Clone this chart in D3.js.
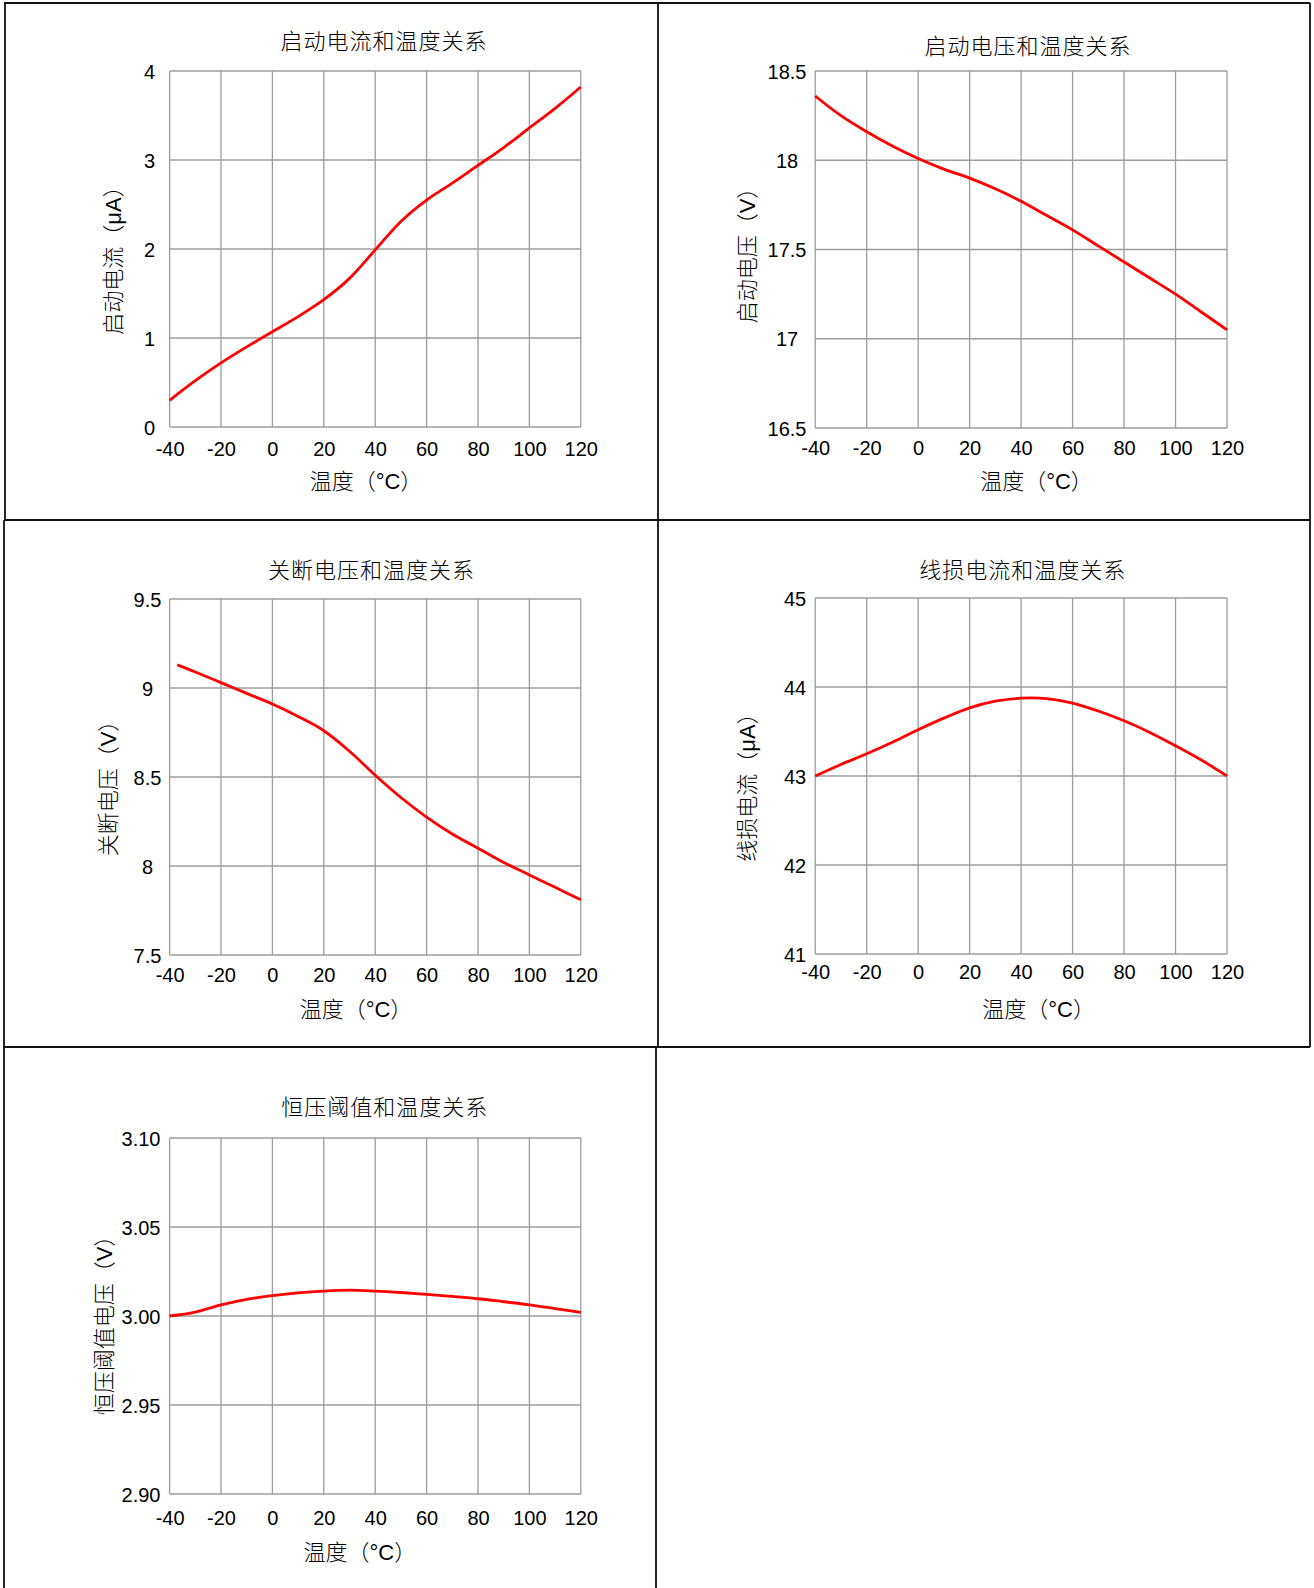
<!DOCTYPE html>
<html>
<head>
<meta charset="utf-8">
<script src="https://cdn.jsdelivr.net/npm/d3@7"></script>
<style>
body{margin:0;background:#fff}
svg text{font-family:"Liberation Sans",Arial,"Noto Sans CJK SC",sans-serif;fill:#000}
svg text.cjk{font-weight:300}
</style>
</head>
<body>
<svg id="canvas" width="1314" height="1588"></svg>
<script>
//1) Data

//temperature axis
const xTicks = [-40, -20, 0, 20, 40, 60, 80, 100, 120]
const temps = [-40, -30, -20, -10, 0, 10, 20, 30, 40, 50, 60, 70, 80, 90, 100, 110, 120]
const shutdownTemps = [-37, -30, -20, -10, 0, 10, 20, 30, 40, 50, 60, 70, 80, 90, 100, 110, 120]

//series values
const startCurrent = [0.30, 0.52, 0.72, 0.90, 1.07, 1.24, 1.43, 1.67, 1.99, 2.31, 2.55, 2.74, 2.94, 3.14, 3.36, 3.58, 3.82]
const startVoltage = [18.36, 18.25, 18.16, 18.08, 18.01, 17.95, 17.90, 17.84, 17.77, 17.69, 17.61, 17.52, 17.43, 17.34, 17.25, 17.15, 17.05]
const shutdownVoltage = [9.13, 9.09, 9.03, 8.97, 8.91, 8.84, 8.76, 8.645, 8.51, 8.385, 8.275, 8.18, 8.10, 8.02, 7.95, 7.88, 7.81]
const lineLossCurrent = [43.00, 43.13, 43.25, 43.38, 43.52, 43.65, 43.765, 43.84, 43.875, 43.87, 43.82, 43.73, 43.62, 43.49, 43.34, 43.18, 43.00]
const cvThreshold = [3.000, 3.0022, 3.0062, 3.0093, 3.0114, 3.013, 3.014, 3.0145, 3.014, 3.0132, 3.0122, 3.011, 3.0097, 3.008, 3.0063, 3.0042, 3.002]

//y tick values
const yTicks1 = [0, 1, 2, 3, 4]
const yTicks2 = [16.5, 17, 17.5, 18, 18.5]
const yTicks3 = [7.5, 8, 8.5, 9, 9.5]
const yTicks4 = [41, 42, 43, 44, 45]
const yTicks5 = [2.90, 2.95, 3.00, 3.05, 3.10]

//texts
const titles = ["启动电流和温度关系", "启动电压和温度关系", "关断电压和温度关系", "线损电流和温度关系", "恒压阈值和温度关系"]
const yTitles = ["启动电流（μA）", "启动电压（V）", "关断电压（V）", "线损电流（μA）", "恒压阈值电压（V）"]
const xTitle = "温度（°C）"

//2) Layout of each panel
const plain = d => String(d)
const panels = [
    {x: temps, y: startCurrent, yTicks: yTicks1, fmt: plain,
     left: 169.6, right: 580.8, top: 71, bottom: 427,
     title: [384, 41.5], xTitle: [366, 481.5], yTitle: [113, 255], yLabelX: 149.5, xLabelY: 449},
    {x: temps, y: startVoltage, yTicks: yTicks2, fmt: plain,
     left: 815.2, right: 1227, top: 71, bottom: 428,
     title: [1028, 46.7], xTitle: [1036.5, 481.7], yTitle: [747, 250], yLabelX: 787, xLabelY: 448},
    {x: shutdownTemps, y: shutdownVoltage, yTicks: yTicks3, fmt: plain,
     left: 169.6, right: 580.8, top: 599, bottom: 955,
     title: [371.4, 570], xTitle: [356, 1009], yTitle: [108, 783], yLabelX: 147.5, xLabelY: 975},
    {x: temps, y: lineLossCurrent, yTicks: yTicks4, fmt: plain,
     left: 815.2, right: 1227, top: 598, bottom: 954,
     title: [1022.7, 570], xTitle: [1038.6, 1009], yTitle: [747, 782], yLabelX: 795, xLabelY: 972},
    {x: temps, y: cvThreshold, yTicks: yTicks5, fmt: d3.format(".2f"),
     left: 169.6, right: 580.8, top: 1138, bottom: 1494,
     title: [384.7, 1107], xTitle: [359.8, 1552], yTitle: [104, 1320], yLabelX: 141, xLabelY: 1518},
]

//3) Draw canvas
const canvas = d3.select("#canvas")

//table lines
const tableLines = [
    [4, 3, 1310, 3], [4, 520, 1310, 520], [3, 1047, 1310, 1047],
    [5, 3, 5, 520], [4, 520, 4, 1588],
    [658, 3, 658, 1047], [656, 1047, 656, 1588],
    [1310, 3, 1310, 1047],
]
canvas.append("g").selectAll("line")
    .data(tableLines)
    .enter().append("line")
    .attr("x1", d => d[0]).attr("y1", d => d[1])
    .attr("x2", d => d[2]).attr("y2", d => d[3])
    .attr("stroke", "#111").attr("stroke-width", 1.8)

panels.forEach((p, i) => {
    const g = canvas.append("g")

    //scales
    const xScale = d3.scaleLinear().domain([-40, 120]).range([p.left, p.right])
    const yScale = d3.scaleLinear().domain(d3.extent(p.yTicks)).range([p.bottom, p.top])

    //grid
    g.append("g").selectAll("line")
        .data(xTicks).enter().append("line")
        .attr("x1", d => xScale(d)).attr("x2", d => xScale(d))
        .attr("y1", p.top).attr("y2", p.bottom)
        .attr("stroke", "#9c9c9c").attr("stroke-width", 1.3)
    g.append("g").selectAll("line")
        .data(p.yTicks).enter().append("line")
        .attr("x1", p.left).attr("x2", p.right)
        .attr("y1", d => yScale(d)).attr("y2", d => yScale(d))
        .attr("stroke", "#9c9c9c").attr("stroke-width", 1.3)

    //axes labels through d3 axes
    const xAxis = g.append("g")
        .attr("transform", `translate(0,${p.xLabelY})`)
        .call(d3.axisBottom(xScale).tickValues(xTicks).tickSize(0).tickPadding(0).tickFormat(plain))
    xAxis.select(".domain").remove()
    xAxis.selectAll("text")
        .attr("y", 0).attr("dy", "0.35em")
        .style("font-size", "20px")

    const yAxis = g.append("g")
        .attr("transform", `translate(${p.yLabelX},0)`)
        .call(d3.axisLeft(yScale).tickValues(p.yTicks).tickSize(0).tickPadding(0).tickFormat(p.fmt))
    yAxis.select(".domain").remove()
    yAxis.selectAll("text")
        .attr("x", 0).attr("dy", "0.35em")
        .attr("text-anchor", "middle")
        .style("font-size", "20px")

    //curve
    const line = d3.line()
        .x((d, j) => xScale(p.x[j]))
        .y(d => yScale(d))
        .curve(d3.curveCatmullRom.alpha(0.5))
    g.append("path")
        .datum(p.y)
        .attr("d", line)
        .attr("fill", "none")
        .attr("stroke", "#ff0000")
        .attr("stroke-width", 2.8)

    //titles
    g.append("text")
        .attr("class", "cjk")
        .attr("x", p.title[0]).attr("y", p.title[1])
        .attr("text-anchor", "middle").attr("dy", "0.35em")
        .style("font-size", "22px").style("letter-spacing", "1px")
        .text(titles[i])
    g.append("text")
        .attr("class", "cjk")
        .attr("x", p.xTitle[0]).attr("y", p.xTitle[1])
        .attr("text-anchor", "middle").attr("dy", "0.35em")
        .style("font-size", "22px")
        .text(xTitle)
    g.append("text")
        .attr("class", "cjk")
        .attr("transform", `translate(${p.yTitle[0]},${p.yTitle[1]}) rotate(-90)`)
        .attr("text-anchor", "middle").attr("dy", "0.35em")
        .style("font-size", "22px")
        .text(yTitles[i])
})
</script>
</body>
</html>
